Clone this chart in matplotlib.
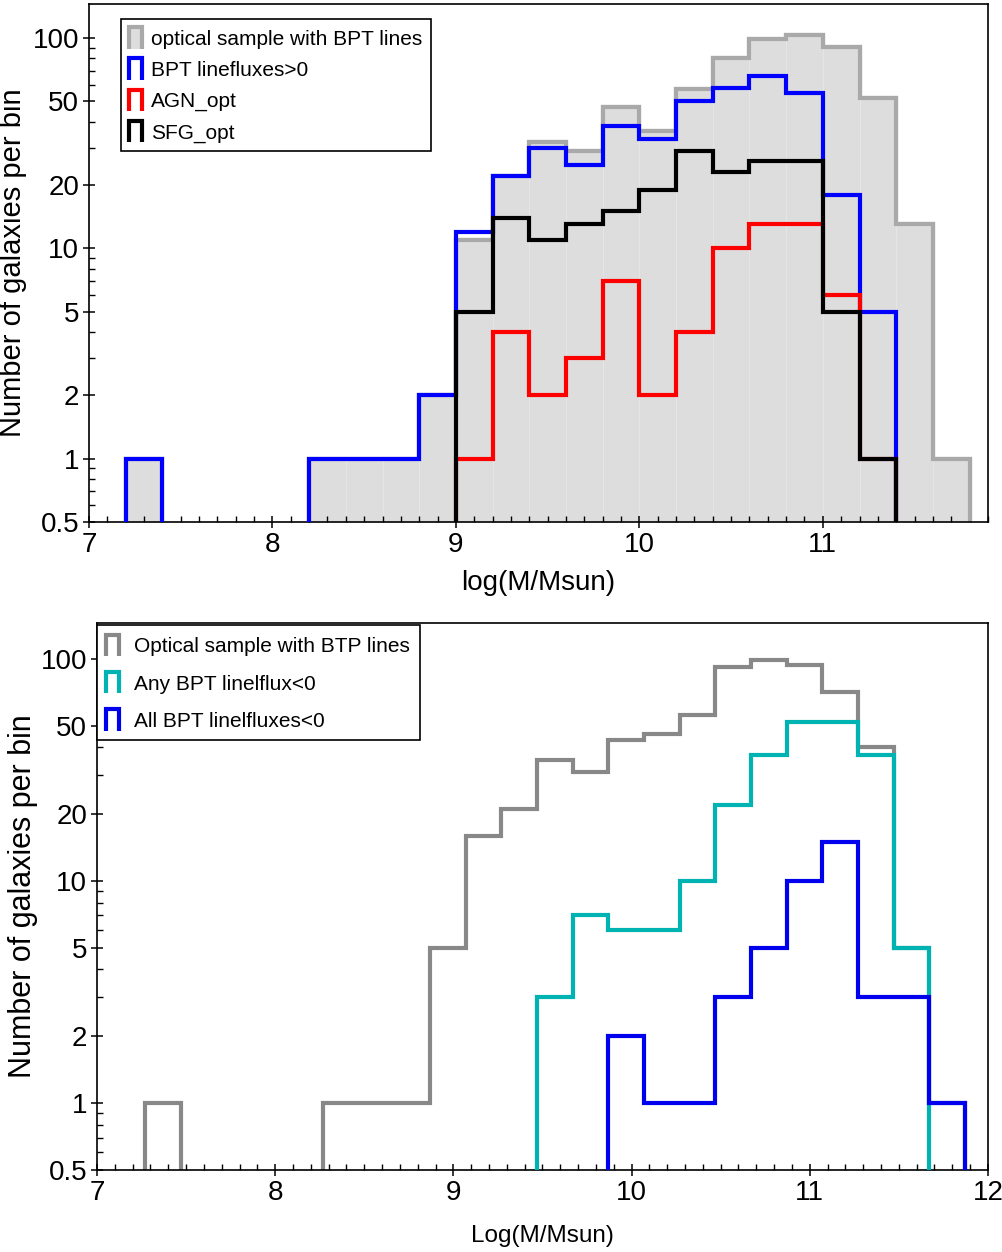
import numpy as np
import matplotlib
matplotlib.use("Agg")
import matplotlib.pyplot as plt
import matplotlib.patches as mpatches
from matplotlib.legend_handler import HandlerPatch
from matplotlib.patches import StepPatch
from matplotlib.ticker import MultipleLocator, LogLocator, NullFormatter

plt.rcParams['font.family'] = ['Liberation Sans', 'DejaVu Sans']

# ---- data (counts per 0.2 dex bin) ----
# top panel: bins start at 7.2
edges_top = np.round(7.2 + 0.2 * np.arange(24), 2)
optical_bpt = [1, 0, 0, 0, 0, 1, 1, 1, 2, 11, 22, 32, 29, 47, 36, 57, 80, 99, 103, 91, 52, 13, 1]
bpt_pos = [1, 0, 0, 0, 0, 1, 1, 1, 2, 12, 22, 30, 25, 38, 33, 50, 58, 66, 55, 18, 5, 0, 0]
agn_opt = [0, 0, 0, 0, 0, 0, 0, 0, 0, 1, 4, 2, 3, 7, 2, 4, 10, 13, 13, 6, 1, 0, 0]
sfg_opt = [0, 0, 0, 0, 0, 0, 0, 0, 0, 5, 14, 11, 13, 15, 19, 29, 23, 26, 26, 5, 1, 0, 0]

# bottom panel: bins start at 7.27
edges_bot = np.round(7.27 + 0.2 * np.arange(24), 2)
optical_btp = [1, 0, 0, 0, 0, 1, 1, 1, 5, 16, 21, 35, 31, 43, 46, 56, 92, 99, 94, 71, 40, 5, 1]
any_neg = [0, 0, 0, 0, 0, 0, 0, 0, 0, 0, 0, 3, 7, 6, 6, 10, 22, 37, 52, 52, 37, 5, 0]
all_neg = [0, 0, 0, 0, 0, 0, 0, 0, 0, 0, 0, 0, 0, 2, 1, 1, 3, 5, 10, 15, 3, 3, 1]

ytick_vals = [0.5, 1, 2, 5, 10, 20, 50, 100]
ytick_labels = ['0.5', '1', '2', '5', '10', '20', '50', '100']


def cap_shape(legend, orig_handle, xdescent, ydescent, width, height, fontsize):
    # open-bottom box, like the old step-histogram legend keys
    x0, x1 = -xdescent, -xdescent + width
    y0, y1 = -ydescent, -ydescent + height
    return mpatches.Polygon([[x0, y0], [x0, y1], [x1, y1], [x1, y0]], closed=False)


def style_axes(ax, xlim, xticks):
    ax.set_yscale('log', nonpositive='clip')
    ax.set_ylim(0.5, 145)
    ax.set_xlim(*xlim)
    ax.set_xticks(xticks)
    ax.xaxis.set_minor_locator(MultipleLocator(0.1))
    ax.set_yticks(ytick_vals, ytick_labels)
    ax.yaxis.set_minor_locator(LogLocator(base=10, subs=np.arange(1, 10)))
    ax.yaxis.set_minor_formatter(NullFormatter())
    ax.tick_params(which='major', direction='inout', length=8, width=1.1,
                   labelsize=20, top=False, right=False, pad=3)
    ax.tick_params(which='minor', direction='in', length=4, width=1.0,
                   top=False, right=False)
    for sp in ax.spines.values():
        sp.set_linewidth(1.2)


step_handler = {StepPatch: HandlerPatch(patch_func=cap_shape)}

fig = plt.figure(figsize=(10.03, 12.52), dpi=100)

# ---- top panel ----
ax1 = fig.add_axes([0.0887, 0.5831, 0.8963, 0.4137])
centers_top = 0.5 * (edges_top[:-1] + edges_top[1:])
ax1.bar(centers_top, optical_bpt, width=0.2, color='#dddddd',
        edgecolor='#e6e6e6', linewidth=0.6, zorder=1)
h_opt = ax1.stairs(optical_bpt, edges_top, fill=True, facecolor='#dddddd',
                   edgecolor='#a9a9a9', linewidth=3, zorder=0.5,
                   label='optical sample with BPT lines')
ax1.stairs(optical_bpt, edges_top, color='#a9a9a9', linewidth=3, zorder=2)
h_bpt = ax1.stairs(bpt_pos, edges_top, color='#0000ff', linewidth=3, zorder=3,
                   label='BPT linefluxes>0')
h_agn = ax1.stairs(agn_opt, edges_top, color='#ff0000', linewidth=3, zorder=4,
                   label='AGN_opt')
h_sfg = ax1.stairs(sfg_opt, edges_top, color='black', linewidth=3, zorder=5,
                   label='SFG_opt')
style_axes(ax1, (7, 11.9), [7, 8, 9, 10, 11])
ax1.set_xlabel('log(M/Msun)', fontsize=20, labelpad=9)
ax1.set_ylabel('Number of galaxies per bin', fontsize=21, labelpad=4)
leg1 = ax1.legend(handles=[h_opt, h_bpt, h_agn, h_sfg], loc='upper left',
                  bbox_to_anchor=(0.0356, 0.971), borderaxespad=0,
                  fontsize=15, fancybox=False, framealpha=1, edgecolor='black',
                  handlelength=0.6, handleheight=1.2, handletextpad=0.45,
                  labelspacing=0.45, borderpad=0.4, handler_map=step_handler)
leg1.get_frame().set_linewidth(1.2)
leg1.set_zorder(10)

# ---- bottom panel ----
ax2 = fig.add_axes([0.0967, 0.0655, 0.8883, 0.4369])
h_all_opt = ax2.stairs(optical_btp, edges_bot, color='#888888', linewidth=3,
                       zorder=2, label='Optical sample with BTP lines')
h_any = ax2.stairs(any_neg, edges_bot, color='#00b3b3', linewidth=3, zorder=3,
                   label='Any BPT linelflux<0')
h_all = ax2.stairs(all_neg, edges_bot, color='#0000ee', linewidth=3, zorder=4,
                   label='All BPT linelfluxes<0')
style_axes(ax2, (7, 12), [7, 8, 9, 10, 11, 12])
ax2.set_xlabel('Log(M/Msun)', fontsize=17.5, labelpad=14)
ax2.set_ylabel('Number of galaxies per bin', fontsize=22, labelpad=2)
leg2 = ax2.legend(handles=[h_all_opt, h_any, h_all], loc='upper left',
                  bbox_to_anchor=(0.0, 0.996), borderaxespad=0,
                  fontsize=15, fancybox=False, framealpha=1, edgecolor='black',
                  handlelength=0.6, handleheight=1.2, handletextpad=0.75,
                  labelspacing=0.75, borderpad=0.45, handler_map=step_handler)
leg2.get_frame().set_linewidth(1.2)
leg2.set_zorder(10)

fig.savefig('out.png', dpi=100)
